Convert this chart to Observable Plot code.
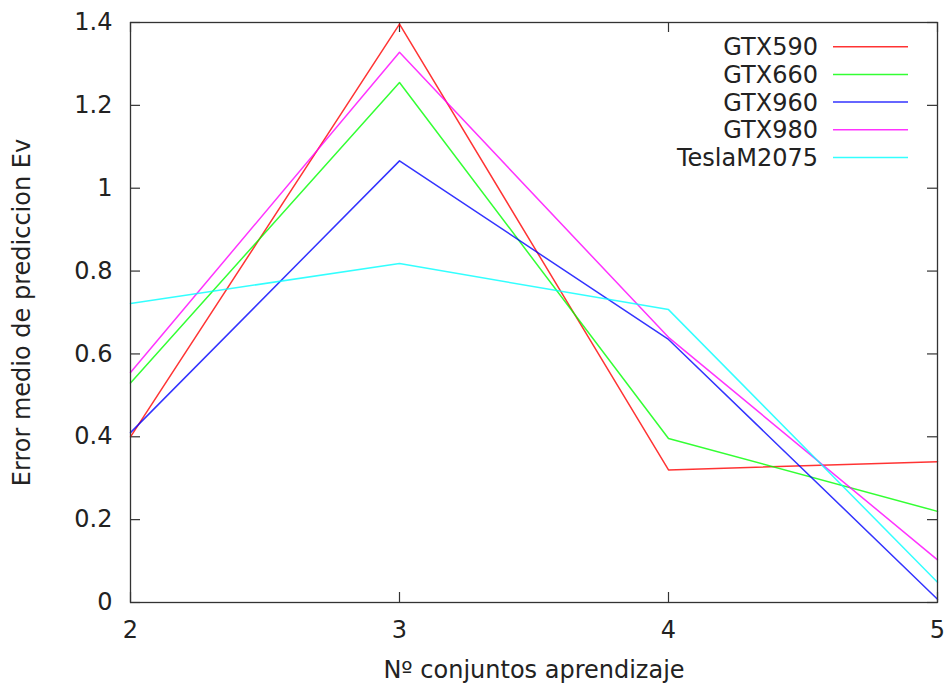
<!DOCTYPE html>
<html>
<head>
<meta charset="utf-8">
<script src="https://cdn.jsdelivr.net/npm/d3@7"></script>
<script src="https://cdn.jsdelivr.net/npm/@observablehq/plot@0.6"></script>
<style>
  html, body { margin: 0; padding: 0; background: #fff; }
  svg { display: block; }
</style>
</head>
<body>
<div id="chart"></div>
<script>
const xValues = [2, 3, 4, 5];
const seriesNames = ["GTX590", "GTX660", "GTX960", "GTX980", "TeslaM2075"];
const seriesColors = ["#ff0000", "#00ff00", "#0000ff", "#ff00ff", "#00ffff"];
const GTX590 = [0.400, 1.396, 0.320, 0.340];
const GTX660 = [0.530, 1.255, 0.396, 0.220];
const GTX960 = [0.410, 1.066, 0.635, 0.008];
const GTX980 = [0.555, 1.328, 0.640, 0.103];
const TeslaM2075 = [0.722, 0.818, 0.707, 0.049];
const xTicks = [2, 3, 4, 5];
const yTicks = [0, 0.2, 0.4, 0.6, 0.8, 1, 1.2, 1.4];
const xLabel = "Nº conjuntos aprendizaje";
const yLabel = "Error medio de prediccion Ev";

const seriesValues = [GTX590, GTX660, GTX960, GTX980, TeslaM2075];
const rows = [];
seriesNames.forEach((name, i) => {
  xValues.forEach((x, j) => rows.push({series: name, x, y: seriesValues[i][j]}));
});

const W = 950, H = 684;
const mL = 130, mR = 13, mT = 22, mB = 82;
const innerW = W - mL - mR, innerH = H - mT - mB;
const tickLen = 10;
const axisColor = "#333";
const fontSize = "24px";

const chart = Plot.plot({
  width: W,
  height: H,
  marginLeft: mL,
  marginRight: mR,
  marginTop: mT,
  marginBottom: mB,
  style: {fontFamily: "DejaVu Sans, sans-serif", fontSize: fontSize, color: "#222", background: "#fff"},
  x: {domain: [2, 5]},
  y: {domain: [0, 1.4]},
  color: {domain: seriesNames, range: seriesColors},
  marks: [
    Plot.axisX({ticks: xTicks, tickSize: 0, tickPadding: 18, tickFormat: d => String(d),
      label: xLabel, labelAnchor: "center", labelArrow: "none", labelOffset: 75}),
    Plot.axisY({ticks: yTicks, tickSize: 0, tickPadding: 18, tickFormat: d => String(+d.toFixed(1)),
      label: yLabel, labelAnchor: "center", labelArrow: "none", labelOffset: 118}),
    Plot.ruleX(xTicks, {x: d => d, insetTop: innerH - tickLen, stroke: axisColor, strokeWidth: 1.2}),
    Plot.ruleX(xTicks, {x: d => d, insetBottom: innerH - tickLen, stroke: axisColor, strokeWidth: 1.2}),
    Plot.ruleY(yTicks, {y: d => d, insetRight: innerW - tickLen, stroke: axisColor, strokeWidth: 1.2}),
    Plot.ruleY(yTicks, {y: d => d, insetLeft: innerW - tickLen, stroke: axisColor, strokeWidth: 1.2}),
    Plot.line(rows, {x: "x", y: "y", z: "series", stroke: "series", strokeWidth: 1.5, strokeOpacity: 0.8}),
    Plot.frame({stroke: axisColor, strokeWidth: 1.3})
  ]
});

// legend (gnuplot style, inside top-right)
const svg = d3.select(chart);
const lg = svg.append("g").attr("font-family", "DejaVu Sans, sans-serif").attr("font-size", fontSize);
seriesNames.forEach((name, i) => {
  const cy = 46.7 + i * 27.7;
  lg.append("text").attr("x", 818).attr("y", cy).attr("dy", "0.36em")
    .attr("text-anchor", "end").attr("fill", "#222").text(name);
  lg.append("line").attr("x1", 833).attr("x2", 908).attr("y1", cy).attr("y2", cy)
    .attr("stroke", seriesColors[i]).attr("stroke-width", 1.5).attr("stroke-opacity", 0.8);
});

document.getElementById("chart").appendChild(chart);
</script>
</body>
</html>
